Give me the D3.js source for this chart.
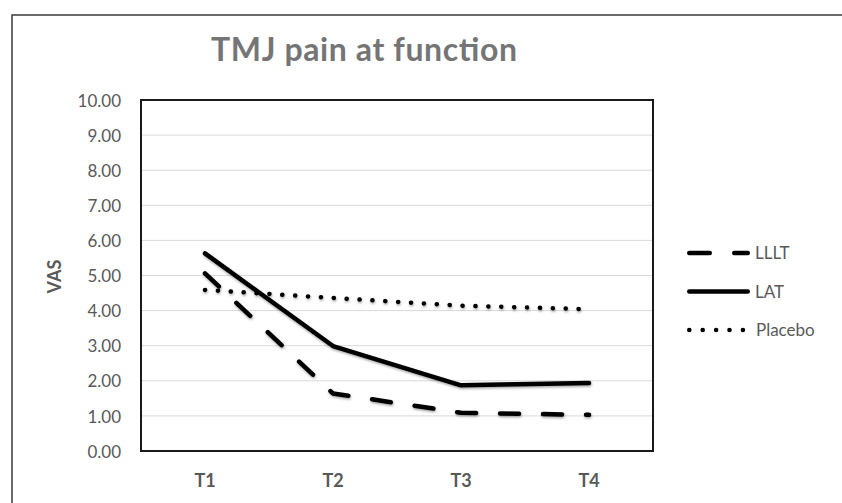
<!DOCTYPE html>
<html>
<head>
<meta charset="utf-8">
<script src="https://cdn.jsdelivr.net/npm/d3@7"></script>
<style>
  body { margin: 0; background: #fff; }
  svg { display: block; font-family: Lato, "Open Sans", sans-serif; }
</style>
</head>
<body>
<div class="chart"></div>
<script>
// data
var categories = ['T1', 'T2', 'T3', 'T4']
var lllt = [5.06, 1.64, 1.09, 1.03]
var lat = [5.63, 2.99, 1.87, 1.94]
var placebo = [4.59, 4.36, 4.14, 4.04]
var yTicks = [0, 1, 2, 3, 4, 5, 6, 7, 8, 9, 10]
var seriesNames = ['LLLT', 'LAT', 'Placebo']

var width = 842
var height = 503
var margin = { top: 100, right: 190, bottom: 52, left: 141 }

var svg = d3.select('.chart').append('svg')
    .attr('width', width)
    .attr('height', height)

// soft shadow under the lines, like the office chart
var defs = svg.append('defs')
var filter = defs.append('filter')
    .attr('id', 'shadow')
    .attr('x', '-10%').attr('y', '-10%')
    .attr('width', '120%').attr('height', '140%')
filter.append('feDropShadow')
    .attr('dx', 0.5).attr('dy', 1.5)
    .attr('stdDeviation', 1.2)
    .attr('flood-color', '#000')
    .attr('flood-opacity', 0.35)

// outer frame
svg.append('rect')
    .attr('x', 12)
    .attr('y', 15)
    .attr('width', 850)
    .attr('height', 520)
    .attr('fill', 'none')
    .attr('stroke', '#3a3a3a')
    .attr('stroke-width', 1.5)

var x = d3.scaleBand()
    .domain(categories)
    .range([margin.left, width - margin.right + 1])

var y = d3.scaleLinear()
    .domain([0, 10])
    .range([height - margin.bottom, margin.top])

// gridlines
svg.append('g')
  .selectAll('line')
  .data(yTicks)
  .enter()
  .append('line')
    .attr('x1', margin.left)
    .attr('x2', x.range()[1])
    .attr('y1', function (d) { return y(d) })
    .attr('y2', function (d) { return y(d) })
    .attr('stroke', '#d9d9d9')
    .attr('stroke-width', 1)

// plot area border
svg.append('rect')
    .attr('x', margin.left)
    .attr('y', margin.top)
    .attr('width', x.range()[1] - margin.left)
    .attr('height', y(0) - margin.top)
    .attr('fill', 'none')
    .attr('stroke', '#1a1a1a')
    .attr('stroke-width', 2)

// y axis labels
var yAxis = svg.append('g')
    .attr('transform', 'translate(' + (margin.left - 20) + ',0)')
    .call(d3.axisLeft(y).tickValues(yTicks).tickSize(0).tickFormat(d3.format('.2f')))
yAxis.select('.domain').remove()
yAxis.selectAll('text')
    .attr('x', 0)
    .attr('dy', '0.36em')
    .attr('font-size', 17)
    .attr('font-family', 'Lato, sans-serif')
    .attr('fill', '#595959')

// x axis labels
var xAxis = svg.append('g')
    .attr('transform', 'translate(0,' + y(0) + ')')
    .call(d3.axisBottom(x).tickSize(0))
xAxis.select('.domain').remove()
xAxis.selectAll('text')
    .attr('y', 36)
    .attr('dy', 0)
    .attr('font-size', 18)
    .attr('font-weight', 'bold')
    .attr('font-family', 'Lato, sans-serif')
    .attr('fill', '#595959')

// title
svg.append('text')
    .attr('x', 364)
    .attr('y', 61)
    .attr('text-anchor', 'middle')
    .attr('font-size', 32)
    .attr('font-weight', 'bold')
    .attr('fill', '#757575')
    .attr('textLength', 306)
    .attr('lengthAdjust', 'spacing')
    .text('TMJ pain at function')

// y label
svg.append('text')
    .attr('transform', 'translate(61,' + (y(5) + 1) + ') rotate(-90)')
    .attr('text-anchor', 'middle')
    .attr('font-size', 18)
    .attr('font-weight', 'bold')
    .attr('fill', '#595959')
    .text('VAS')

var styles = {
  LLLT: { dash: '19,24', cap: 'round' },
  LAT: { dash: null, cap: 'round' },
  Placebo: { dash: '0.1,12.8', cap: 'round' }
}
var seriesData = { LLLT: lllt, LAT: lat, Placebo: placebo }

var line = d3.line()
    .x(function (d, i) { return x(categories[i]) + x.bandwidth() / 2 })
    .y(function (d) { return y(d) })

var plot = svg.append('g').attr('filter', 'url(#shadow)')
seriesNames.forEach(function (name) {
  plot.append('path')
      .datum(seriesData[name])
      .attr('d', line)
      .attr('fill', 'none')
      .attr('stroke', '#000')
      .attr('stroke-width', 4.5)
      .attr('stroke-linecap', styles[name].cap)
      .attr('stroke-linejoin', 'round')
      .attr('stroke-dasharray', styles[name].dash)
})

// legend
var legend = svg.append('g')
    .attr('transform', 'translate(687,253)')
seriesNames.forEach(function (name, i) {
  var g = legend.append('g').attr('transform', 'translate(0,' + (i * 38.5) + ')')
  g.append('line')
      .attr('x1', 2.25)
      .attr('x2', name === 'Placebo' ? 56 : 60.75)
      .attr('y1', 0)
      .attr('y2', 0)
      .attr('stroke', '#000')
      .attr('stroke-width', 4.5)
      .attr('stroke-linecap', 'round')
      .attr('stroke-dasharray', name === 'LLLT' ? '20.5,24.5' : (name === 'Placebo' ? '0.1,13.3' : null))
  g.append('text')
      .attr('x', name === 'Placebo' ? 69 : 68)
      .attr('y', 6)
      .attr('font-size', 17)
      .attr('fill', '#595959')
      .text(name)
})
</script>
</body>
</html>
